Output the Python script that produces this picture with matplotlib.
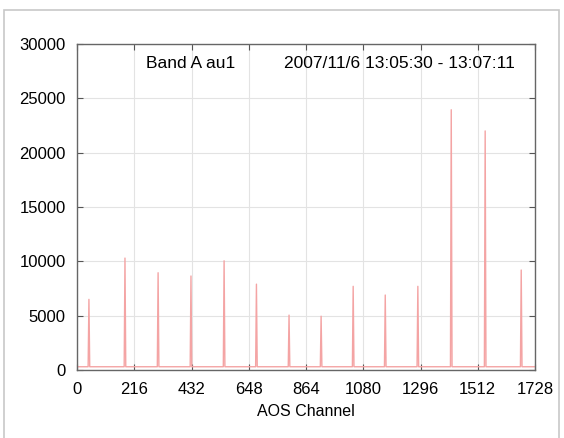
import matplotlib
matplotlib.use("Agg")
import matplotlib.pyplot as plt
from matplotlib.patches import Rectangle

# Data
peak_channels = [45, 181, 306, 430, 555, 677, 800, 921, 1042, 1163, 1286, 1412, 1540, 1676]
peak_heights = [6500, 10300, 8950, 8650, 10050, 7900, 5050, 4950, 7700, 6900, 7700, 23950, 22000, 9200]
baseline_level = 300
channel_range = (0, 1727)
x_ticks = [0, 216, 432, 648, 864, 1080, 1296, 1512, 1728]
y_ticks = [0, 5000, 10000, 15000, 20000, 25000, 30000]
title_left = "Band A au1"
title_right = "2007/11/6 13:05:30 - 13:07:11"
x_label = "AOS Channel"

# build polyline vertices from peaks
xs = [channel_range[0]]
ys = [baseline_level]
for c, h in zip(peak_channels, peak_heights):
    xs += [c - 3, c, c + 3]
    ys += [baseline_level, h, baseline_level]
xs.append(channel_range[1])
ys.append(baseline_level)

plt.rcParams['font.family'] = ['Liberation Sans', 'DejaVu Sans']

fig = plt.figure(figsize=(5.64, 4.38), dpi=100)
fig.patches.append(Rectangle((4 / 564, -10 / 438), 555 / 564, 438 / 438,
                             transform=fig.transFigure, fill=False,
                             edgecolor='#c8c8c8', linewidth=1.2))
ax = fig.add_axes([77 / 564, 1 - 370 / 438, 458 / 564, 326 / 438])

ax.plot(xs, ys, color='#f4a4a4', linewidth=1.0)

ax.set_xlim(0, 1728)
ax.set_ylim(0, 30000)
ax.set_xticks(x_ticks)
ax.set_yticks(y_ticks)
ax.grid(True, color='#e3e3e3', linewidth=0.8)
ax.set_axisbelow(True)
ax.tick_params(direction='in', length=4, top=True, right=True,
               labelsize=12, color='#555555')
ax.tick_params(axis='x', pad=9)
ax.tick_params(axis='y', pad=8)
for s in ax.spines.values():
    s.set_color('#666666')
    s.set_linewidth(1.0)
ax.set_xlabel(x_label, fontsize=11.5, labelpad=5)

fig.text(146 / 564, 1 - 68 / 438, title_left, fontsize=12.5, va='baseline')
fig.text(284 / 564, 1 - 68 / 438, title_right, fontsize=12.5, va='baseline')

fig.savefig("out.png", dpi=100)
